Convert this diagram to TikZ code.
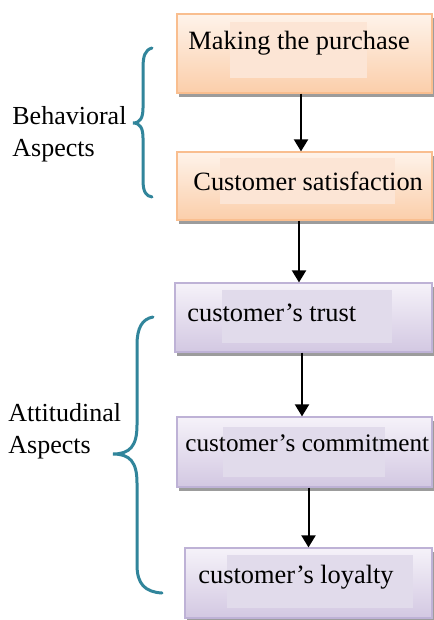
\documentclass[tikz,border=0pt]{standalone}
\usepackage{fontspec}
\setmainfont{Liberation Serif}
\usepackage{tikz}
\usetikzlibrary{arrows.meta,shadows,positioning}
\usepackage{xcolor}
\definecolor{orlight}{RGB}{254,243,234}
\definecolor{ordark}{RGB}{251,206,170}
\definecolor{orline}{RGB}{249,190,143}
\definecolor{orpatch}{RGB}{252,229,213}
\definecolor{pulight}{RGB}{245,242,249}
\definecolor{pudark}{RGB}{211,200,226}
\definecolor{puline}{RGB}{190,178,214}
\definecolor{pupatch}{RGB}{225,219,235}
\definecolor{braceteal}{RGB}{49,133,155}
\tikzstyle{arrow} = [line width=1pt,-{Triangle[width=7pt,length=6pt]}]
\tikzstyle{stagebox} = [rectangle, line width=0.6pt, drop shadow={shadow xshift=1pt, shadow yshift=-1.8pt, fill=black!55, opacity=0.7}]
\tikzstyle{behbox} = [stagebox, draw=orline, top color=orlight, bottom color=ordark]
\tikzstyle{attbox} = [stagebox, draw=puline, top color=pulight, bottom color=pudark]
\tikzstyle{boxtext} = [anchor=west, inner sep=0pt, font=\fontsize{13.2}{16}\selectfont]
\tikzstyle{aspect} = [anchor=west, align=left, inner sep=0pt, font=\fontsize{13}{16}\selectfont]
\tikzstyle{bracket} = [line width=1.5pt, draw=braceteal, line cap=round]

\begin{document}
\begin{tikzpicture}[x=0.5pt, y=-0.5pt]
\useasboundingbox (0,0) rectangle (433,620);
\fill[white] (0,0) rectangle (433,620);

% Behavioral boxes
\node[behbox, minimum width=127.5pt, minimum height=39.5pt] (buy) at (304.5,53.5) {};
\node[behbox, minimum width=127.5pt, minimum height=34pt] (sat) at (304.5,186) {};
\fill[orpatch] (230,22) rectangle (367,78);
\fill[orpatch] (220,158) rectangle (395,204);
\node[boxtext] (buytxt) at (188,43) {Making the purchase};
\node[boxtext] (sattxt) at (193,181) {Customer satisfaction};

% Attitudinal boxes
\node[attbox, minimum width=128.5pt, minimum height=34.5pt] (trust) at (303.5,317.5) {};
\node[attbox, minimum width=127.5pt, minimum height=35pt] (commit) at (304.5,452) {};
\node[attbox, minimum width=123.5pt, minimum height=35pt] (loyal) at (308.5,583) {};
\fill[pupatch] (222,290) rectangle (392,343);
\fill[pupatch] (223,427) rectangle (385,477);
\fill[pupatch] (227,555) rectangle (413,608);
\node[boxtext] (trusttxt) at (187,313) {customer's trust};
\node[boxtext, font=\fontsize{12.6}{16}\selectfont] (committxt) at (185,443) {customer's commitment};
\node[boxtext] (loyaltxt) at (198,577) {customer's loyalty};

% Arrows
\draw[arrow] (buy.south -| 301,0) -- (sat.north -| 301,0);
\draw[arrow] (sat.south -| 299,0) -- (trust.north -| 299,0);
\draw[arrow] (trust.south -| 302,0) -- (commit.north -| 302,0);
\draw[arrow] (commit.south -| loyal.north) -- (loyal.north);

% Braces
\draw[bracket] (152,48) .. controls (145,50) and (143,56) .. (143,68) -- (143,108)
  .. controls (143,118) and (140,123) .. (133,123)
  .. controls (140,123) and (143,128) .. (143,138) -- (143,180)
  .. controls (143,192) and (146,196) .. (152,197);
\node[aspect] (behav) at (12,134) {Behavioral\\Aspects};

\draw[bracket] (153,317) .. controls (142,319) and (137,328) .. (137,345) -- (137,425)
  .. controls (137,446) and (130,454) .. (113,454)
  .. controls (130,454) and (137,462) .. (137,483) -- (137,565)
  .. controls (137,584) and (145,592) .. (162,593);
\node[aspect] (attit) at (8,431) {Attitudinal\\Aspects};
\end{tikzpicture}
\end{document}
